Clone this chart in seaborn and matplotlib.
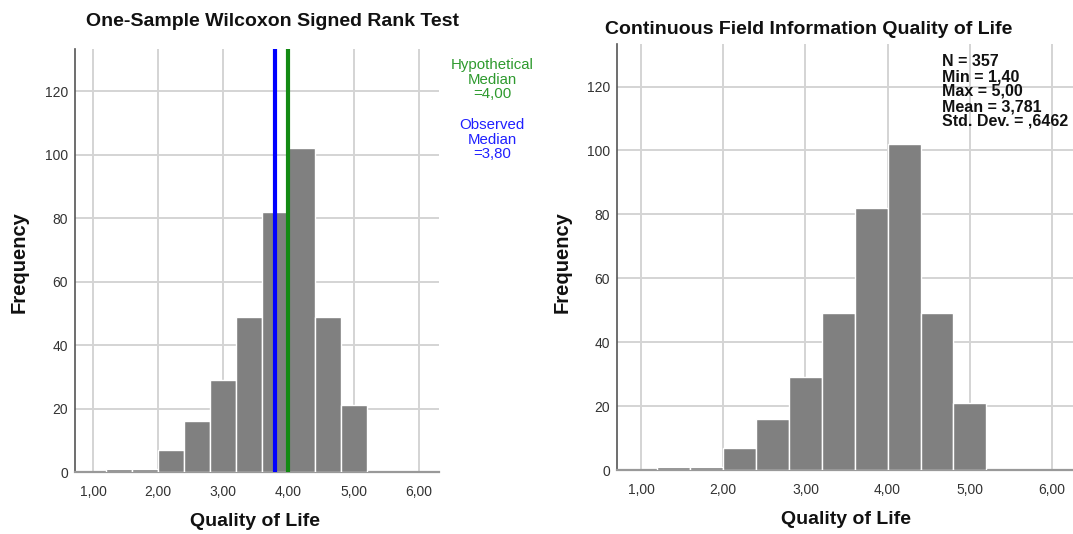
import numpy as np
import matplotlib
matplotlib.use("Agg")
import matplotlib.pyplot as plt
import seaborn as sns

# Data
bin_edges = [1.2, 1.6, 2.0, 2.4, 2.8, 3.2, 3.6, 4.0, 4.4, 4.8, 5.2]
counts = [1, 1, 7, 16, 29, 49, 82, 102, 49, 21]
x_ticks = [1, 2, 3, 4, 5, 6]
x_tick_labels = ["1,00", "2,00", "3,00", "4,00", "5,00", "6,00"]
y_ticks = [0, 20, 40, 60, 80, 100, 120]
hypothetical_median = 4.00
observed_median = 3.80
stats_lines = ["N = 357", "Min = 1,40", "Max = 5,00", "Mean = 3,781", "Std. Dev. = ,6462"]

mids = [(a + b) / 2 for a, b in zip(bin_edges[:-1], bin_edges[1:])]

sns.set_theme(style="white")
plt.rcParams['font.family'] = ['Liberation Sans', 'DejaVu Sans']

W, H = 1073, 534
fig = plt.figure(figsize=(W / 100, H / 100), dpi=100)
ax1 = fig.add_axes([75 / W, 1 - 472 / H, (439 - 75) / W, (472 - 49) / H])
ax2 = fig.add_axes([617 / W, 1 - 470 / H, (1073 - 617) / W, (470 - 44) / H])

limits = {ax1: (0.724, 6.31), ax2: (0.708, 6.255)}

for ax in (ax1, ax2):
    sns.histplot(x=mids, weights=counts, bins=bin_edges, ax=ax,
                 color="#808080", alpha=1, edgecolor="white", linewidth=1.0, zorder=3)
    ax.set_xlim(*limits[ax])
    ax.set_ylim(0, 133.3)
    ax.set_xticks(x_ticks)
    ax.set_xticklabels(x_tick_labels)
    ax.set_yticks(y_ticks)
    ax.grid(True, color="#d4d4d4", linewidth=1.4, zorder=0)
    ax.set_axisbelow(True)
    for s in ("top", "right"):
        ax.spines[s].set_visible(False)
    ax.spines["left"].set_color("#555555")
    ax.spines["bottom"].set_color("#999999")
    ax.spines["left"].set_linewidth(1.2)
    ax.spines["bottom"].set_linewidth(1.6)
    ax.tick_params(axis="x", length=0, labelsize=10, colors="#333333", pad=9)
    ax.tick_params(axis="y", length=0, labelsize=10, colors="#333333", pad=5)
    ax.set_xlabel("")
    ax.set_ylabel("")

ax1.axvline(observed_median, color="#0000ff", linewidth=3, zorder=4)
ax1.axvline(hypothetical_median, color="#138a13", linewidth=3, zorder=4)

def ftext(x, y, s, **kw):
    fig.text(x / W, 1 - y / H, s, **kw)

# Titles
ftext(273, 21, "One-Sample Wilcoxon Signed Rank Test", fontsize=14, fontweight="bold",
      color="#111111", ha="center", va="center")
ftext(809, 29, "Continuous Field Information Quality of Life", fontsize=14, fontweight="bold",
      color="#111111", ha="center", va="center")

# Axis labels
for cx in (19, 562):
    ftext(cx, 262, "Frequency", fontsize=14.5, fontweight="bold", color="#111111",
          rotation=90, ha="center", va="center")
ftext(255, 521, "Quality of Life", fontsize=14, fontweight="bold", color="#111111",
      ha="center", va="center")
ftext(846, 520, "Quality of Life", fontsize=14, fontweight="bold", color="#111111",
      ha="center", va="center")

# Median annotations
ftext(492, 58, "Hypothetical\nMedian\n=4,00", color="#2e9a2e", fontsize=10.8,
      ha="center", va="top", linespacing=1.05)
ftext(492, 118, "Observed\nMedian\n=3,80", color="#2020ff", fontsize=10.8,
      ha="center", va="top", linespacing=1.05)

# Stats box
ftext(942, 54, "\n".join(stats_lines), fontsize=11.5, fontweight="bold",
      ha="left", va="top", linespacing=1.0, color="#111111")

fig.savefig("out.png", dpi=100)
